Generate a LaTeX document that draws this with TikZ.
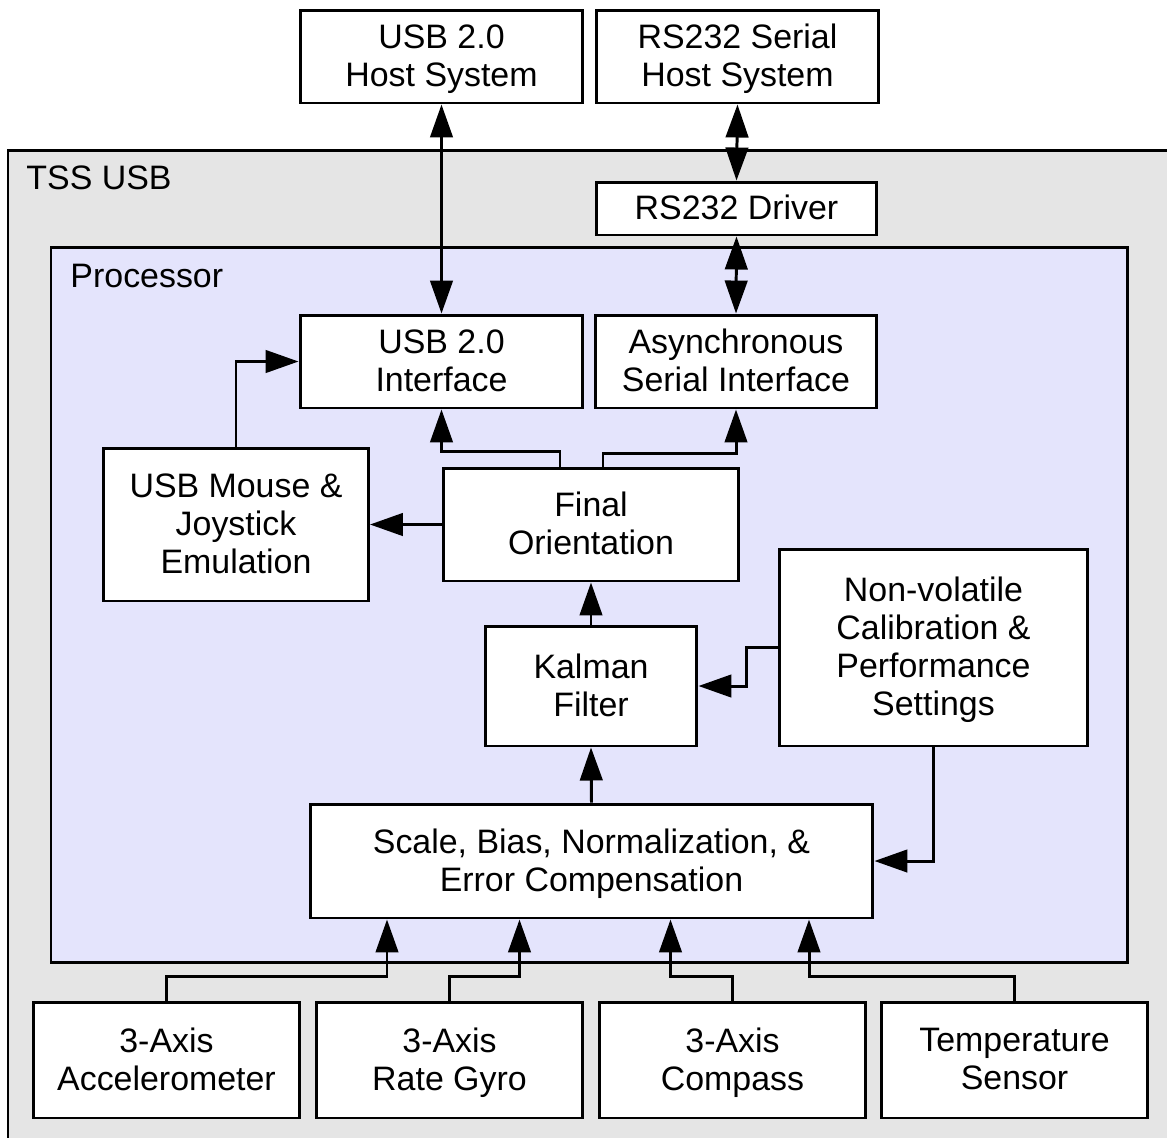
\documentclass[tikz,border=0pt]{standalone}
\usepackage{fontspec}
\setmainfont{Liberation Sans}
\usetikzlibrary{arrows.meta,calc}
\definecolor{tssgray}{RGB}{229,229,229}
\definecolor{proclav}{RGB}{228,228,252}

\begin{document}
\begin{tikzpicture}[x=0.02cm,y=-0.02cm,line width=1.7pt,>={Triangle[length=0.66cm,width=0.45cm]},
 blk/.style={draw,fill=white,align=center,inner sep=0pt,text depth=1pt,font=\fontsize{19.3}{21.6}\selectfont},
 lbl/.style={anchor=west,inner sep=0pt,font=\fontsize{19.3}{21.6}\selectfont}]
\useasboundingbox (0,0) rectangle (1167,1137); \clip (0,0) rectangle (1167,1137);
\draw[fill=tssgray] (8,150) rectangle (1200,1200); \node[lbl] (tss) at (25,178) {TSS USB};
\draw[fill=proclav] (51,247) rectangle (1127,962); \node[lbl] (proc) at (69,276) {Processor};
\node[blk,minimum width=5.66cm,minimum height=1.86cm] (usbhost) at (441.5,56.5) {USB 2.0\\Host System};
\node[blk,minimum width=5.66cm,minimum height=1.86cm] (rshost) at (737.5,56.5) {RS232 Serial\\Host System};
\node[blk,minimum width=5.62cm,minimum height=1.06cm] (rsdrv) at (736.5,208.5) {RS232 Driver};
\node[blk,minimum width=5.66cm,minimum height=1.86cm] (usbif) at (441.5,361.5) {USB 2.0\\Interface};
\node[blk,minimum width=5.64cm,minimum height=1.86cm] (asyncif) at (736,361.5) {Asynchronous\\Serial Interface};
\node[blk,minimum width=5.3cm,minimum height=3.06cm] (mouse) at (236,524.5) {USB Mouse \&\\Joystick\\Emulation};
\node[blk,minimum width=5.92cm,minimum height=2.26cm] (final) at (591,524.5) {Final\\Orientation};
\node[blk,minimum width=4.24cm,minimum height=2.4cm] (kalman) at (591,686) {Kalman\\Filter};
\node[blk,minimum width=6.18cm,minimum height=3.94cm] (nvm) at (933.5,647.5) {Non-volatile\\Calibration \&\\Performance\\Settings};
\node[blk,minimum width=11.26cm,minimum height=2.28cm] (scale) at (591.5,861) {Scale, Bias, Normalization, \&\\Error Compensation};
\foreach \n/\x/\t in {accel/166.5/{3-Axis\\Accelerometer}, gyro/449.5/{3-Axis\\Rate Gyro}, compass/732.5/{3-Axis\\Compass}, temp/1014.5/{Temperature\\Sensor}}
 { \node[blk,minimum width=5.34cm,minimum height=2.32cm] (\n) at (\x,1060) {\t}; };
\draw[<->] (usbhost.south) -- (usbif.north); \draw[<->] (rshost.south) -- (rsdrv.north); \draw[<->] (rsdrv.south) -- (asyncif.north);
\draw[->] ($(final.north)+(-31,0)$) -- ++(0,-15) -| (usbif.south); \draw[->] ($(final.north)+(12,0)$) -- ++(0,-13) -| (asyncif.south);
\draw[->] (final.west) -- (mouse.east); \draw[->] (mouse.north) |- (usbif.west);
\draw[->] (kalman.north) -- (final.south); \draw[->] (scale.north) -- (kalman.south);
\draw[->] (nvm.west) -- ++(-31,0) |- (kalman.east); \draw[->] (nvm.south) |- (scale.east);
\foreach \n/\o in {accel/-204.5, gyro/-72, compass/79, temp/217.5} { \draw[->] (\n.north) -- ++(0,-24) -| ($(scale.south)+(\o,0)$); };
\end{tikzpicture}
\end{document}
